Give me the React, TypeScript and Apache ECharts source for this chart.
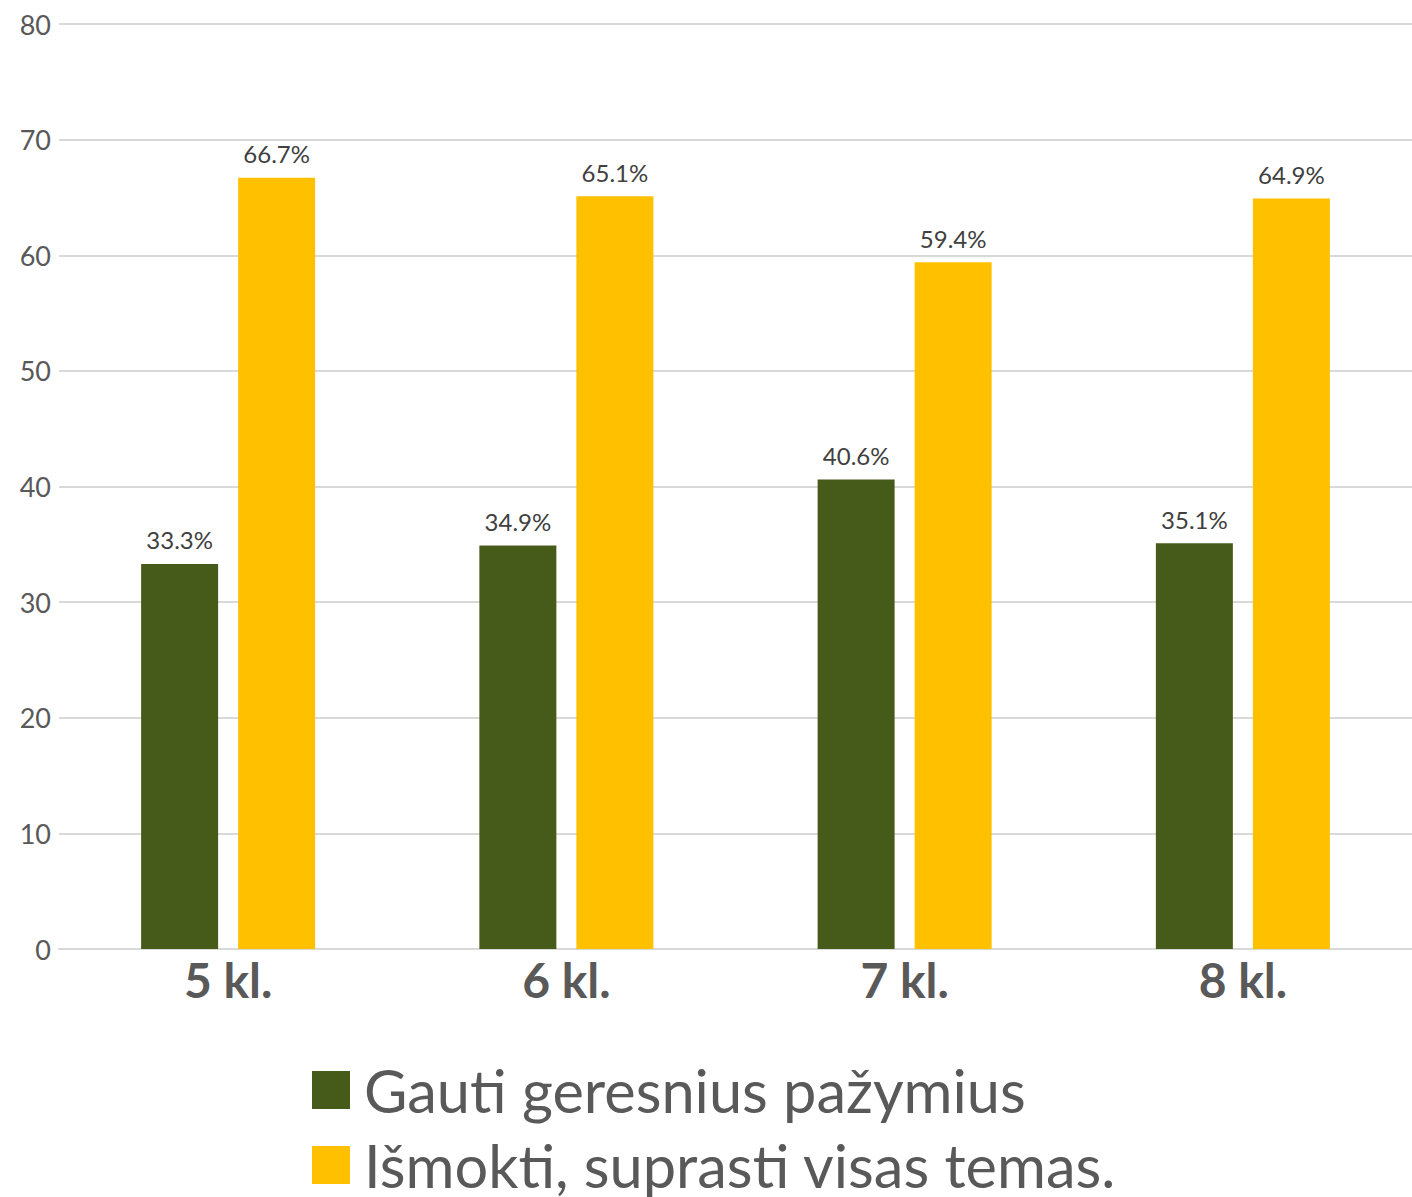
import React, { useEffect, useRef } from "react";
import * as echarts from "echarts";

const categories = ["5 kl.", "6 kl.", "7 kl.", "8 kl."];
const seriesNames = ["Gauti geresnius pažymius", "Išmokti, suprasti visas temas."];
const gradesValues = [33.3, 34.9, 40.6, 35.1];
const learnValues = [66.7, 65.1, 59.4, 64.9];
const colors = ["#465A1A", "#FFC000"];

export default function App() {
  const ref = useRef<HTMLDivElement>(null);
  useEffect(() => {
    if (!ref.current) return;
    const chart = echarts.init(ref.current, undefined, { renderer: "svg" });
    const font = "Lato, 'Noto Sans', sans-serif";
    const label = {
      show: true,
      position: "top",
      distance: 12,
      formatter: "{c}%",
      color: "#404040",
      fontSize: 24,
      fontFamily: font,
    };
    const legendBase = {
      orient: "horizontal",
      left: 307,
      itemWidth: 38,
      itemHeight: 38,
      icon: "rect",
      textStyle: { fontSize: 59.5, lineHeight: 60, color: "#595959", fontFamily: font, padding: [0, 0, 0, 9] },
    };
    chart.setOption({
      animation: false,
      textStyle: { fontFamily: font },
      grid: { left: 59, right: -10, top: 24, bottom: 248, containLabel: false },
      legend: [
        { ...legendBase, top: 1055, data: [seriesNames[0]] },
        { ...legendBase, top: 1130, data: [seriesNames[1]] },
      ],
      xAxis: {
        type: "category",
        data: categories,
        axisLine: { show: true, lineStyle: { color: "#d9d9d9", width: 2 } },
        axisTick: { show: false },
        axisLabel: { color: "#595959", fontSize: 48, fontWeight: "bold", fontFamily: font, margin: 6 },
      },
      yAxis: {
        type: "value",
        min: 0,
        max: 80,
        interval: 10,
        axisLine: { show: false },
        axisTick: { show: false },
        axisLabel: { color: "#595959", fontSize: 27, fontFamily: font, margin: 8 },
        splitLine: { lineStyle: { color: "#d9d9d9", width: 2 } },
      },
      series: [
        {
          name: seriesNames[0],
          type: "bar",
          data: gradesValues,
          barWidth: 77,
          barGap: "26%",
          itemStyle: { color: colors[0] },
          label,
        },
        {
          name: seriesNames[1],
          type: "bar",
          data: learnValues,
          barWidth: 77,
          barGap: "26%",
          itemStyle: { color: colors[1] },
          label,
        },
      ],
    });
    return () => chart.dispose();
  }, []);
  return (
    <div
      ref={ref}
      style={{ position: "absolute", left: 0, top: 0, width: 1412, height: 1197 }}
    />
  );
}
